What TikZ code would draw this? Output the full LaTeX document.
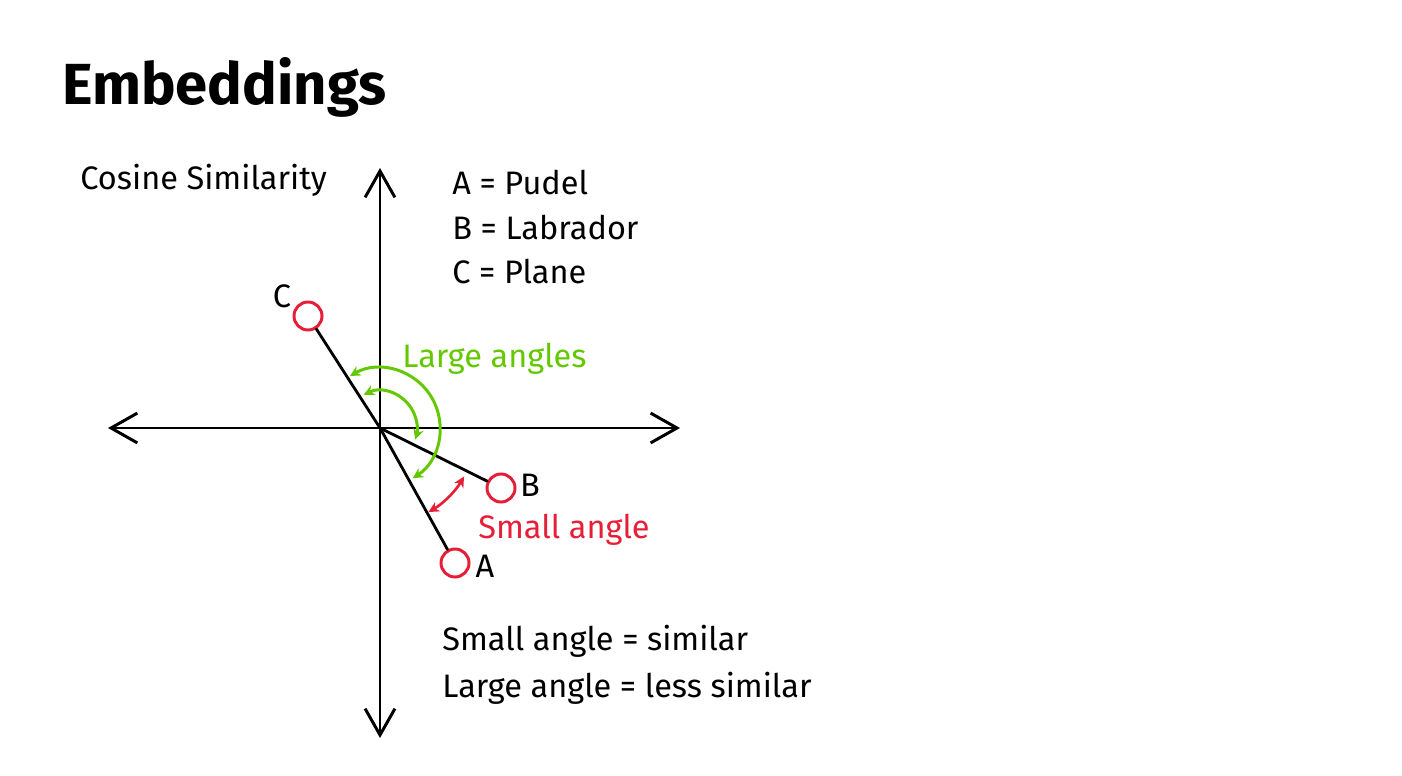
\documentclass[tikz,border=0pt]{standalone}
\usepackage{fontspec}
\setmainfont{Fira Sans}
\usetikzlibrary{arrows.meta}
\definecolor{angred}{RGB}{230,30,55}
\definecolor{anggreen}{RGB}{100,200,0}
\begin{document}
\begin{tikzpicture}[x=0.02cm, y=0.02cm, line cap=round,
	axis/.style={line width=1.7pt, {Straight Barb[length=15pt,width=17pt,line width=1.7pt]}-{Straight Barb[length=15pt,width=17pt,line width=1.7pt]}},
	vec/.style={line width=1.6pt},
	pt/.style={circle, draw=angred, line width=1.7pt, inner sep=0pt, minimum size=0.56cm},
	txt/.style={anchor=base west, font=\fontsize{18.5}{22}\selectfont, inner sep=0pt},
	bigarc/.style={line width=1.7pt, anggreen, {Stealth[length=6pt,width=6pt]}-{Stealth[length=6pt,width=6pt]}},
	smallarc/.style={line width=1.5pt, angred, {Stealth[length=6pt,width=6pt]}-{Stealth[length=6pt,width=6pt]}}]
	\useasboundingbox (0,0) rectangle (1402,775);
	% Achsen
	\coordinate (O) at (380,347);
	\coordinate (top) at (380,607);
	\coordinate (bot) at (380,37);
	\coordinate (left) at (108,347);
	\coordinate (right) at (680,347);
	\draw[axis] (bot) -- (top);
	\draw[axis] (left) -- (right);
	
	% Die drei Vektoren
	\node[pt] (C) at (308,459) {};
	\node[pt] (B) at (501,287) {};
	\node[pt] (A) at (455,212) {};
	\draw[vec] (O) -- (C);
	\draw[vec] (O) -- (B);
	\draw[vec] (O) -- (A);
	\node[font=\fontsize{18.5}{22}\selectfont] (labC) at (282,479) {C};
	\node[font=\fontsize{18.5}{22}\selectfont] (labB) at (530,290) {B};
	\node[font=\fontsize{18.5}{22}\selectfont] (labA) at (485,209) {A};
	
	% Winkel
	\draw[bigarc] (O) ++(120:60) arc (120:-57:60);
	\draw[bigarc] (O) ++(116:37) arc (116:-18:37);
	\draw[smallarc] (O) ++(-60:97) arc (-60:-30:97);
	
	% Texte
	\node[anchor=base west, inner sep=0pt, font=\fontsize{33}{38}\selectfont\bfseries] (title) at (62,670) {Embeddings};
	\node[txt] (cos) at (80,585) {Cosine Similarity};
	\node[txt] (leg1) at (452,580) {A = Pudel};
	\node[txt] (leg2) at (452,535) {B = Labrador};
	\node[txt] (leg3) at (452,491) {C = Plane};
	\node[txt, text=anggreen] (large) at (402,408) {Large angles};
	\node[txt, text=angred] (small) at (478,237) {Small angle};
	\node[txt] (note1) at (442,125) {Small angle = similar};
	\node[txt] (note2) at (442,78) {Large angle = less similar};
\end{tikzpicture}
\end{document}
